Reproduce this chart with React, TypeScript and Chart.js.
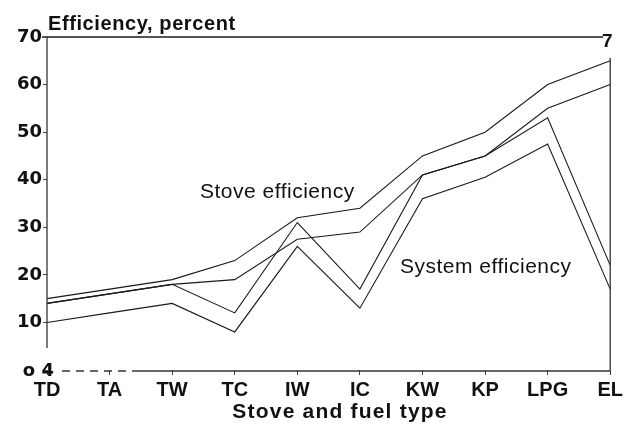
import React, { useEffect, useRef } from 'react';
import { Chart, registerables } from 'chart.js';

Chart.register(...registerables);

const categories = ['TD', 'TA', 'TW', 'TC', 'IW', 'IC', 'KW', 'KP', 'LPG', 'EL'];
const stoveUpper = [15, 17, 19, 23, 32, 34, 45, 50, 60, 65];
const stoveLower = [14, 16, 18, 19, 27.5, 29, 41, 45, 55, 60];
const systemUpper = [14, 16, 18, 12, 31, 17, 41, 45, 53, 22];
const systemLower = [10, 12, 14, 8, 26, 13, 36, 40.5, 47.5, 17];
const yTickValues = [0, 10, 20, 30, 40, 50, 60, 70];
const yTickLabels = ['o 4', '10', '20', '30', '40', '50', '60', '70'];

const yAxisTitle = 'Efficiency, percent';
const xAxisTitle = 'Stove and fuel type';
const stoveLabel = 'Stove efficiency';
const systemLabel = 'System efficiency';
const cornerMark = '7';

const SANS = '"Liberation Sans", Arial, Helvetica, sans-serif';
const TICKFONT = '"DejaVu Sans", sans-serif';
const INK = '#1a1a1a';

const framePlugin = {
  id: 'frameAndText',
  afterDraw(chart: any) {
    const ctx = chart.ctx;
    const { left, right, top, bottom } = chart.chartArea;
    const y = chart.scales.y;
    const x = chart.scales.x;
    ctx.save();
    // top frame line
    ctx.strokeStyle = '#555';
    ctx.lineWidth = 2;
    ctx.beginPath();
    ctx.moveTo(left - 5, top);
    ctx.lineTo(right - 7, top);
    ctx.stroke();
    // left axis
    ctx.strokeStyle = '#333';
    ctx.lineWidth = 1.3;
    ctx.beginPath();
    ctx.moveTo(left, top);
    ctx.lineTo(left, y.getPixelForValue(4.6));
    ctx.stroke();
    // right frame
    ctx.beginPath();
    ctx.moveTo(right, top + 21);
    ctx.lineTo(right, bottom);
    ctx.stroke();
    // bottom axis: dashed part then solid
    ctx.lineWidth = 1.5;
    ctx.setLineDash([8, 6]);
    ctx.beginPath();
    ctx.moveTo(left + 15, bottom + 1);
    ctx.lineTo(x.getPixelForValue(1.4), bottom + 1);
    ctx.stroke();
    ctx.setLineDash([]);
    ctx.beginPath();
    ctx.moveTo(x.getPixelForValue(1.4), bottom + 1);
    ctx.lineTo(right, bottom + 1);
    ctx.stroke();

    ctx.fillStyle = '#111';
    // zero tick label (drawn overlapping the axis, as in the original)
    ctx.font = `bold 18px ${TICKFONT}`;
    ctx.textAlign = 'right';
    ctx.textBaseline = 'middle';
    ctx.fillText(yTickLabels[0], left + 7, y.getPixelForValue(yTickValues[0]) + 1);
    // y axis title
    ctx.font = `bold 20px ${SANS}`;
    (ctx as any).letterSpacing = '0.6px';
    ctx.textAlign = 'left';
    ctx.textBaseline = 'alphabetic';
    ctx.fillText(yAxisTitle, left + 1, 30);
    // corner mark
    (ctx as any).letterSpacing = '0px';
    ctx.font = `bold 19px ${SANS}`;
    ctx.textAlign = 'center';
    ctx.fillText(cornerMark, right - 3, 47);
    // x axis title
    ctx.font = `bold 21px ${SANS}`;
    (ctx as any).letterSpacing = '1.2px';
    ctx.fillText(xAxisTitle, 340, 418);
    // series labels
    ctx.font = `21px ${SANS}`;
    (ctx as any).letterSpacing = '0.5px';
    ctx.textAlign = 'left';
    ctx.textBaseline = 'middle';
    ctx.fillText(stoveLabel, 200, 192);
    ctx.fillText(systemLabel, 400, 267);
    (ctx as any).letterSpacing = '0px';
    ctx.restore();
  },
};

export default function App() {
  const canvasRef = useRef<HTMLCanvasElement | null>(null);

  useEffect(() => {
    if (!canvasRef.current) return;
    const mk = (label: string, data: number[]) => ({
      label,
      data,
      borderColor: INK,
      backgroundColor: INK,
      borderWidth: 1.1,
      pointRadius: 0,
      tension: 0,
      fill: false,
    });
    const chart = new Chart(canvasRef.current, {
      type: 'line',
      data: {
        labels: categories,
        datasets: [
          mk('Stove efficiency (upper)', stoveUpper),
          mk('Stove efficiency (lower)', stoveLower),
          mk('System efficiency (upper)', systemUpper),
          mk('System efficiency (lower)', systemLower),
        ],
      },
      options: {
        animation: false,
        responsive: false,
        devicePixelRatio: 1,
        layout: { padding: { top: 37, right: 14, left: 0, bottom: 0 } },
        plugins: {
          legend: { display: false },
          tooltip: { enabled: false },
          title: { display: false },
        },
        scales: {
          x: {
            type: 'category',
            offset: false,
            border: { display: false },
            grid: {
              display: true,
              drawOnChartArea: false,
              drawTicks: true,
              tickLength: 5,
              color: '#444',
            },
            ticks: {
              autoSkip: false,
              maxRotation: 0,
              minRotation: 0,
              padding: 3,
              color: '#111',
              font: { family: SANS, size: 20, weight: 'bold' },
            },
            afterFit: (s: any) => {
              s.height = 60;
            },
          },
          y: {
            type: 'linear',
            min: 0,
            max: 70,
            border: { display: false },
            grid: {
              display: true,
              drawOnChartArea: false,
              drawTicks: true,
              tickLength: 4,
              color: '#444',
            },
            afterBuildTicks: (s: any) => {
              s.ticks = yTickValues.map((v) => ({ value: v }));
            },
            ticks: {
              padding: 1,
              color: '#111',
              font: { family: TICKFONT, size: 18, weight: 'bold' },
              callback: (v: any) => {
                const i = yTickValues.indexOf(Number(v));
                // the zero label is drawn by the plugin at its offset position
                return i > 0 ? yTickLabels[i] : '';
              },
            },
            afterFit: (s: any) => {
              s.width = 47;
            },
          },
        },
      },
      plugins: [framePlugin],
    } as any);
    return () => chart.destroy();
  }, []);

  return (
    <div style={{ position: 'fixed', left: 0, top: 0, width: 626, height: 430, background: '#fff' }}>
      <canvas ref={canvasRef} width={626} height={430} style={{ width: 626, height: 430 }} />
    </div>
  );
}
